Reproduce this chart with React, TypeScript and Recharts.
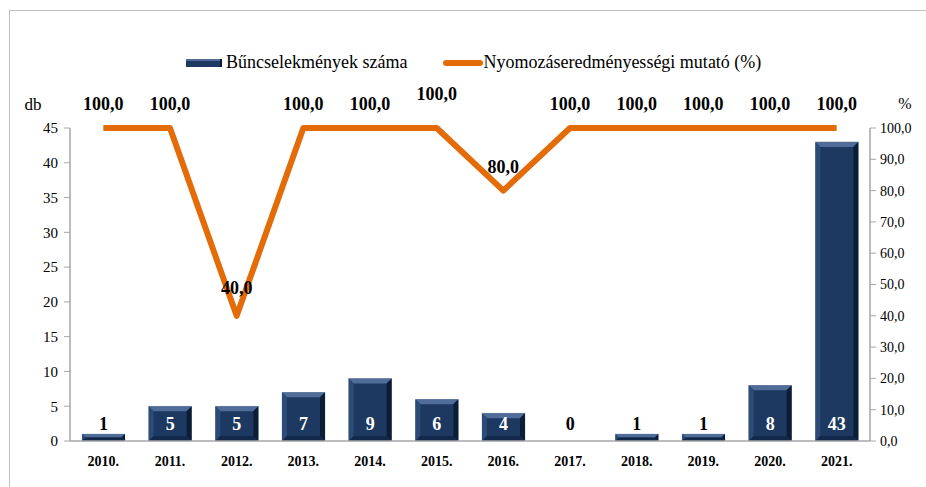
import React from 'react';
import { ComposedChart, Bar, Line, XAxis, YAxis, Legend, LabelList } from 'recharts';

const years = ['2010.', '2011.', '2012.', '2013.', '2014.', '2015.', '2016.', '2017.', '2018.', '2019.', '2020.', '2021.'];
const crimeCounts = [1, 5, 5, 7, 9, 6, 4, 0, 1, 1, 8, 43];
const clearanceRates = [100, 100, 40, 100, 100, 100, 80, 100, 100, 100, 100, 100];
const leftTicks = [0, 5, 10, 15, 20, 25, 30, 35, 40, 45];
const rightTicks = [0, 10, 20, 30, 40, 50, 60, 70, 80, 90, 100];

const barName = 'Bűncselekmények száma';
const lineName = 'Nyomozáseredményességi mutató (%)';

const data = years.map((y, i) => ({ year: y, count: crimeCounts[i], rate: clearanceRates[i] }));

const FONT = 'Liberation Serif, DejaVu Serif, Times New Roman, serif';
const NAVY = '#1d3961';
const ORANGE = '#e36c09';
const AXIS = '#a6a6a6';

const BevelBar = (props: any) => {
  const { x, y, width, height } = props;
  if (!height || height <= 0) return null;
  const b = Math.min(5, height / 2, width / 2);
  return (
    <g>
      <rect x={x} y={y} width={width} height={height} fill={NAVY} stroke="#b8bfcc" strokeWidth={0.6} />
      <polygon points={`${x},${y} ${x + width},${y} ${x + width - b},${y + b} ${x + b},${y + b}`} fill="#4f6d98" />
      <polygon points={`${x},${y} ${x + b},${y + b} ${x + b},${y + height - b} ${x},${y + height}`} fill="#2c4b78" />
      <polygon points={`${x + width},${y} ${x + width - b},${y + b} ${x + width - b},${y + height - b} ${x + width},${y + height}`} fill="#0c1d36" />
      <polygon points={`${x},${y + height} ${x + b},${y + height - b} ${x + width - b},${y + height - b} ${x + width},${y + height}`} fill="#13294b" />
    </g>
  );
};

const BarValueLabel = (props: any) => {
  const { x, y, width, height, value } = props;
  const bottom = y + height;
  const white = value >= 4;
  return (
    <text x={x + width / 2} y={bottom - 17} textAnchor="middle" dominantBaseline="central"
      fontFamily={FONT} fontWeight="bold" fontSize={18} fill={white ? '#ffffff' : '#000000'}>
      {value}
    </text>
  );
};

const LineValueLabel = (props: any) => {
  const { x, y, value, index } = props;
  let dy = -24;
  if (index === 5) dy = -34;
  if (index === 2) dy = -28;
  return (
    <text x={x} y={y + dy} textAnchor="middle" dominantBaseline="central"
      fontFamily={FONT} fontWeight="bold" fontSize={18} fill="#000000">
      {Number(value).toFixed(1).replace('.', ',')}
    </text>
  );
};

const renderLegend = () => (
  <div style={{ display: 'flex', justifyContent: 'flex-start', alignItems: 'center', paddingLeft: 186, fontFamily: FONT, fontSize: 18, color: '#000' }}>
    <svg width={38} height={10} style={{ marginRight: 2 }}>
      <rect x={0} y={1} width={36} height={8} fill={NAVY} />
      <rect x={0} y={1} width={36} height={2} fill="#4f6d98" />
      <rect x={34} y={1} width={2} height={8} fill="#0c1d36" />
    </svg>
    <span>{barName}</span>
    <svg width={40} height={10} style={{ marginLeft: 36 }}>
      <line x1={3} y1={5} x2={37} y2={5} stroke={ORANGE} strokeWidth={6} strokeLinecap="round" />
    </svg>
    <span>{lineName}</span>
  </div>
);

export default function App() {
  return (
    <div style={{ position: 'absolute', left: 0, top: 0, width: 926, height: 487, background: '#fff' }}>
      <div style={{ position: 'absolute', left: 9, top: 10, width: 917, height: 477, borderLeft: '1.5px solid #bfbfbf', borderTop: '1.5px solid #bfbfbf' }} />
      <ComposedChart width={926} height={487} data={data} margin={{ top: 128, right: 0, bottom: 0, left: 0 }} barCategoryGap="18%">
        <XAxis dataKey="year" axisLine={{ stroke: AXIS, strokeWidth: 1.5 }} tickLine={false} height={46}
          tick={{ fontFamily: FONT, fontSize: 14, fontWeight: 'bold', fill: '#000' }} tickMargin={9} />
        <YAxis yAxisId="left" orientation="left" width={70} domain={[0, 45]} ticks={leftTicks} interval={0}
          axisLine={{ stroke: AXIS, strokeWidth: 1.5 }} tickLine={{ stroke: AXIS }} tickSize={6} tickMargin={6}
          tick={{ fontFamily: FONT, fontSize: 15, fill: '#000' }}
          label={(p: any) => (
            <text x={33} y={p.viewBox.y - 24} textAnchor="middle" dominantBaseline="central" fontFamily={FONT} fontSize={17} fill="#000">db</text>
          )} />
        <YAxis yAxisId="right" orientation="right" width={56} domain={[0, 100]} ticks={rightTicks} interval={0}
          axisLine={{ stroke: AXIS, strokeWidth: 1.5 }} tickLine={{ stroke: AXIS }} tickSize={6} tickMargin={4}
          tickFormatter={(v: number) => v.toFixed(1).replace('.', ',')}
          tick={{ fontFamily: FONT, fontSize: 14, fill: '#000' }}
          label={(p: any) => (
            <text x={p.viewBox.x + 35} y={p.viewBox.y - 25} textAnchor="middle" dominantBaseline="central" fontFamily={FONT} fontSize={16} fill="#000">%</text>
          )} />
        <Legend layout="horizontal" verticalAlign="middle" align="center" content={renderLegend}
          wrapperStyle={{ top: 52, left: 0, width: 926, height: 24 }} />
        <Bar yAxisId="left" dataKey="count" name={barName} fill={NAVY} shape={BevelBar} isAnimationActive={false}>
          <LabelList dataKey="count" content={BarValueLabel} />
        </Bar>
        <Line yAxisId="right" dataKey="rate" name={lineName} stroke={ORANGE} strokeWidth={6} dot={false}
          activeDot={false} strokeLinejoin="round" type="linear" isAnimationActive={false}>
          <LabelList dataKey="rate" content={LineValueLabel} />
        </Line>
      </ComposedChart>
    </div>
  );
}
